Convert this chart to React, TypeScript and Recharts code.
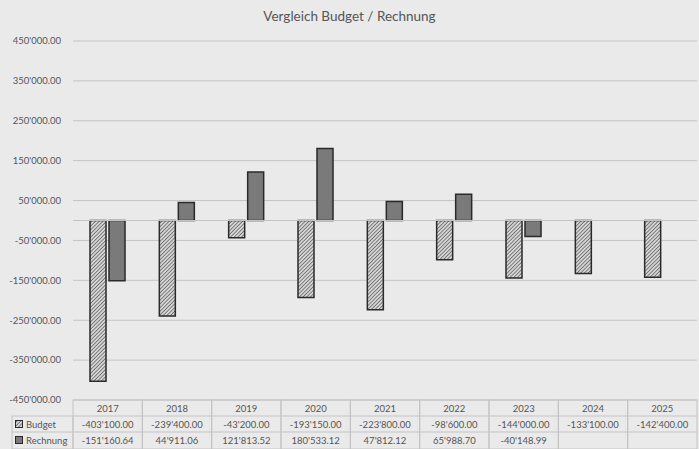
import React from 'react';
import { BarChart, Bar, XAxis, YAxis, CartesianGrid, ReferenceLine, Customized } from 'recharts';

const years = ['2017', '2018', '2019', '2020', '2021', '2022', '2023', '2024', '2025'];
const budget = [-403100, -239400, -43200, -193150, -223800, -98600, -144000, -133100, -142400];
const rechnung: (number | null)[] = [-151160.64, 44911.06, 121813.52, 180533.12, 47812.12, 65988.7, -40148.99, null, null];
const yTicks = [-450000, -350000, -250000, -150000, -50000, 50000, 150000, 250000, 350000, 450000];

const chartData = years.map((year, i) => ({ year, budget: budget[i], rechnung: rechnung[i] }));

const W = 699;
const H = 449;
const PLOT_LEFT = 73;
const PLOT_RIGHT = 697;
const ROW_H = 16;
const FONT = 'Lato, "Liberation Sans", sans-serif';
const TEXT = '#555555';
const LINE = '#c4c4c4';
const BG = '#eaeaea';

// 450000 -> 450'000.00
const fmt = (v: number | null) => {
  if (v === null || v === undefined) return '';
  const neg = v < 0;
  const [int, dec] = Math.abs(v).toFixed(2).split('.');
  return (neg ? '-' : '') + int.replace(/\B(?=(\d{3})+(?!\d))/g, "'") + '.' + dec;
};

const colW = (PLOT_RIGHT - PLOT_LEFT) / years.length;

const TableTick = (props: any) => {
  const { x, y, payload } = props;
  const i = payload.index;
  const left = x - colW / 2;
  return (
    <g fontFamily={FONT} fontSize={9.5} fill={TEXT}>
      <rect x={left} y={y} width={colW} height={ROW_H * 3 + 1} fill="none" stroke={LINE} strokeWidth={1} />
      <line x1={left} x2={left + colW} y1={y + ROW_H} y2={y + ROW_H} stroke={LINE} />
      <line x1={left} x2={left + colW} y1={y + ROW_H * 2} y2={y + ROW_H * 2} stroke={LINE} />
      <text x={x} y={y + 11.5} textAnchor="middle">{payload.value}</text>
      <text x={x} y={y + ROW_H + 11.5} textAnchor="middle">{fmt(budget[i])}</text>
      <text x={x} y={y + ROW_H * 2 + 11.5} textAnchor="middle">{fmt(rechnung[i])}</text>
    </g>
  );
};

const RowHeaders = () => {
  const top = 400;
  return (
    <g fontFamily={FONT} fontSize={9.5} fill={TEXT}>
      <rect x={12} y={top + ROW_H} width={PLOT_LEFT - 12} height={ROW_H * 2 + 1} fill="none" stroke={LINE} />
      <line x1={12} x2={PLOT_LEFT} y1={top + ROW_H * 2} y2={top + ROW_H * 2} stroke={LINE} />
      <rect x={15.5} y={top + ROW_H + 4.5} width={7} height={7} fill="url(#hatch)" stroke="#2a2a2a" />
      <text x={26} y={top + ROW_H + 11.5}>Budget</text>
      <rect x={15.5} y={top + ROW_H * 2 + 4.5} width={7} height={7} fill="#7a7a7a" stroke="#2a2a2a" />
      <text x={26} y={top + ROW_H * 2 + 11.5}>Rechnung</text>
    </g>
  );
};

export default function App() {
  return (
    <div style={{ position: 'absolute', left: 0, top: 0, width: W, height: H, background: BG }}>
      <svg width={0} height={0} style={{ position: 'absolute' }}>
        <defs>
          <pattern id="hatch" width={2.6} height={2.6} patternUnits="userSpaceOnUse" patternTransform="rotate(45)">
            <rect width={2.6} height={2.6} fill="#d6d6d6" />
            <line x1={0} y1={0} x2={0} y2={2.6} stroke="#4a4a4a" strokeWidth={1.3} />
          </pattern>
        </defs>
      </svg>
      <div
        style={{
          position: 'absolute', left: 0, top: 8, width: W, textAlign: 'center',
          fontFamily: FONT, fontSize: 13.5, color: TEXT,
        }}
      >
        Vergleich Budget / Rechnung
      </div>
      <BarChart
        width={W}
        height={H}
        data={chartData}
        margin={{ top: 41, right: W - PLOT_RIGHT, bottom: 0, left: 0 }}
        barSize={16}
        barGap={3}
      >
        <CartesianGrid horizontal vertical={false} stroke={LINE} horizontalValues={yTicks} />
        <YAxis
          type="number"
          domain={[-450000, 450000]}
          ticks={yTicks}
          width={PLOT_LEFT}
          axisLine={false}
          tickLine={false}
          tickSize={0}
          tickMargin={12}
          tickFormatter={fmt}
          tick={{ fontFamily: FONT, fontSize: 9.5, fill: TEXT }}
          interval={0}
        />
        <XAxis
          dataKey="year"
          height={49}
          axisLine={false}
          tickLine={false}
          tickSize={0}
          tickMargin={0}
          interval={0}
          tick={<TableTick />}
        />
        <ReferenceLine y={0} stroke={LINE} />
        <Bar dataKey="budget" fill="url(#hatch)" stroke="#2a2a2a" strokeWidth={1.5} isAnimationActive={false} />
        <Bar dataKey="rechnung" fill="#7a7a7a" stroke="#2a2a2a" strokeWidth={1.5} isAnimationActive={false} />
        <Customized component={RowHeaders} />
      </BarChart>
    </div>
  );
}
